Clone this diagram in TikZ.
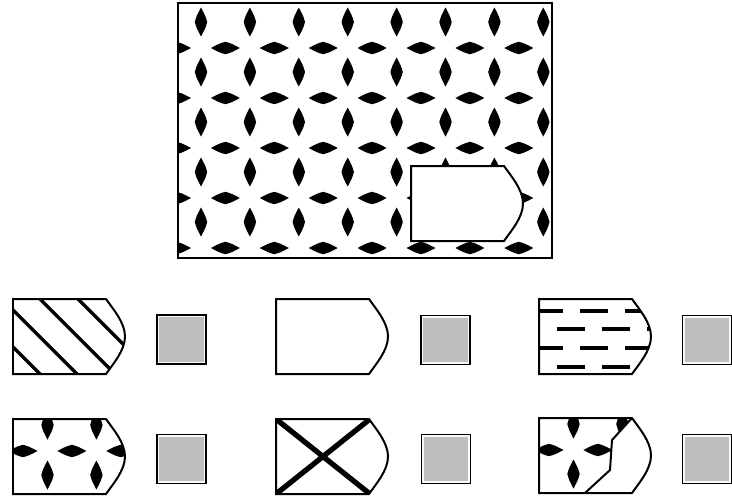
\documentclass[tikz,border=0pt]{standalone}
\usepackage{xcolor}
\usepackage{tikz}
\usetikzlibrary{positioning}

\definecolor{boxgrey}{RGB}{190,190,190}

\newcommand{\piecepath}[2]{(#1,#2) -- ++(93,0)
  .. controls +(7,10) and +(0,-14) .. ++(19,37.5)
  .. controls +(0,14) and +(7,-10) .. ++(-19,37.5) -- ++(-93,0) -- cycle}

\newcommand{\starfield}{%
  \foreach \i [evaluate=\i as \cx using 201+48.9*\i,
               evaluate=\i as \hx using 176.5+48.9*\i] in {0,...,7} {
    \foreach \j [evaluate=\j as \cy using 22+50*\j,
                 evaluate=\j as \hy using 48+50*\j] in {0,...,4} {
      \fill (\cx,\cy-14.5) .. controls (\cx+4.5,\cy-6) .. (\cx+6.2,\cy)
            .. controls (\cx+4.5,\cy+6) .. (\cx,\cy+14.5)
            .. controls (\cx-4.5,\cy+6) .. (\cx-6.2,\cy)
            .. controls (\cx-4.5,\cy-6) .. cycle;
      \fill (\hx-14.5,\hy) .. controls (\hx-6,\hy-4.5) .. (\hx,\hy-6.2)
            .. controls (\hx+6,\hy-4.5) .. (\hx+14.5,\hy)
            .. controls (\hx+6,\hy+4.5) .. (\hx,\hy+6.2)
            .. controls (\hx-6,\hy+4.5) .. cycle;
    }}}

\begin{document}
\begin{tikzpicture}[
    x=0.03cm, y=-0.03cm,
    frame/.style={draw, line width=1.8pt},
    piece/.style={draw, line width=1.7pt, line join=miter},
    hatch/.style={line width=3pt},
    cross/.style={line width=4.5pt},
    dashbar/.style={line width=2.6pt},
    greybox/.style={
        rectangle,
        draw,
        line width=1.5pt,
        fill=boxgrey,
        minimum width=1.47cm,
        minimum height=1.47cm,
        inner sep=0pt,
        path picture={\draw[white!90!boxgrey, line width=4pt]
            (path picture bounding box.south west) rectangle
            (path picture bounding box.north east);}
    }
]
\useasboundingbox (0,0) rectangle (732,499);

\begin{scope}
  \clip (178,3) rectangle (552,258);
  \starfield
\end{scope}
\draw[frame] (178,3) rectangle (552,258);
\path[piece, fill=white] \piecepath{411}{166};

\begin{scope}
  \clip \piecepath{13}{299};
  \foreach \c in {334,297,259,221}
    \draw[hatch] (0,\c) -- ++(160,160);
\end{scope}
\path[piece] \piecepath{13}{299};

\path[piece] \piecepath{276}{299};

\begin{scope}
  \clip \piecepath{539}{299};
  \foreach \r/\s in {311/535, 329/557, 348/535, 367/557}
    \foreach \k in {0,...,3}
      \draw[dashbar] (\s+45*\k,\r) -- ++(28,0);
\end{scope}
\path[piece] \piecepath{539}{299};

\begin{scope}
  \clip \piecepath{13}{419};
  \begin{scope}[shift={(-398,253)}]
    \starfield
  \end{scope}
\end{scope}
\path[piece] \piecepath{13}{419};

\begin{scope}
  \clip \piecepath{276}{419};
  \draw[cross] (276,419) -- (370,494) (276,494) -- (370,419);
\end{scope}
\path[piece] \piecepath{276}{419};

\begin{scope}
  \clip (539,418) -- (632,418) -- (612,440) -- (610,470) -- (585,493) -- (539,493) -- cycle;
  \begin{scope}[shift={(128,252)}]
    \starfield
  \end{scope}
\end{scope}
\draw[piece] (632,418) -- (612,440) -- (610,470) -- (585,493);
\path[piece] \piecepath{539}{418};

\node[greybox] (sq1) at (181.5,339.5) {};
\node[greybox] (sq2) at (445.5,340) {};
\node[greybox] (sq3) at (707,340) {};
\node[greybox] (sq4) at (181.5,459) {};
\node[greybox] (sq5) at (446,459) {};
\node[greybox] (sq6) at (707,459) {};

\end{tikzpicture}
\end{document}
